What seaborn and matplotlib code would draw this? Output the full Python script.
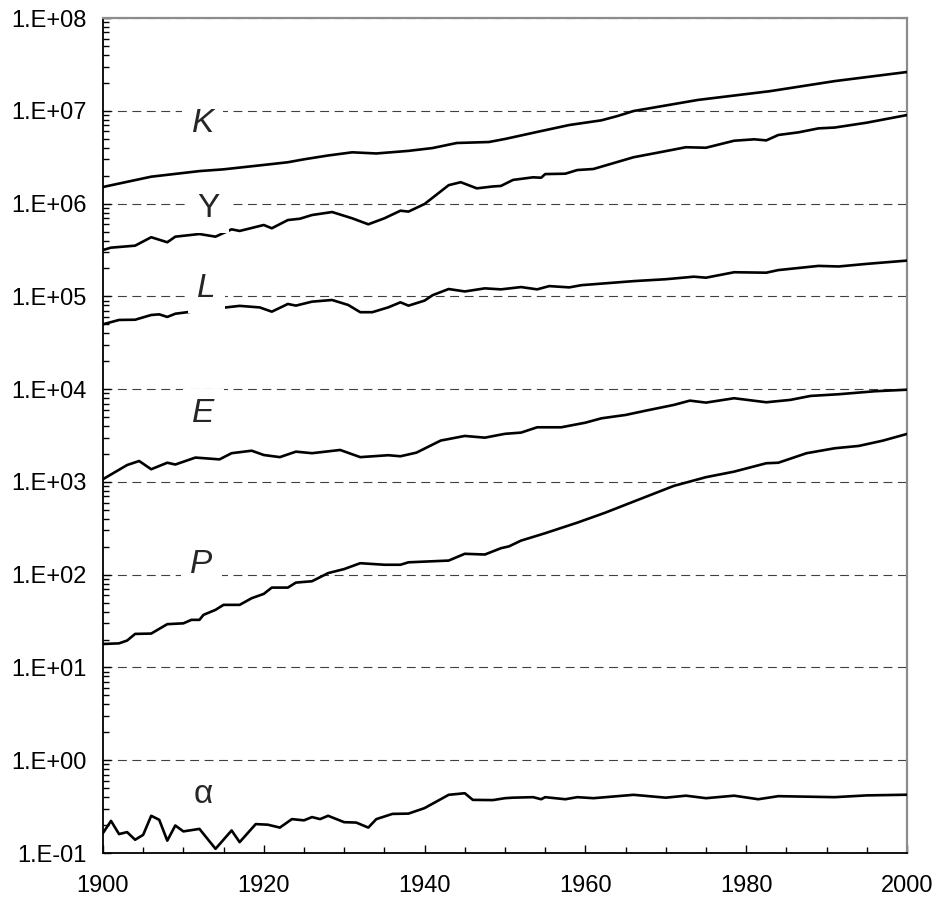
import numpy as np
import matplotlib
matplotlib.use("Agg")
import matplotlib.pyplot as plt
import matplotlib.ticker as mticker
import seaborn as sns

sns.set_theme(style="ticks")
plt.rcParams['font.family'] = ['Liberation Sans', 'DejaVu Sans']

# values
k_years = [1900, 1906, 1912, 1915, 1920, 1923, 1925, 1928, 1931, 1934, 1938, 1941, 1944, 1948,
           1950, 1954, 1958, 1962, 1964, 1966, 1974, 1983, 1991, 2000]
k_vals = [1.51e6, 1.95e6, 2.24e6, 2.34e6, 2.61e6, 2.79e6, 3.0e6, 3.3e6, 3.57e6, 3.47e6, 3.70e6,
          3.97e6, 4.50e6, 4.61e6, 4.97e6, 5.92e6, 7.03e6, 7.9e6, 8.79e6, 9.95e6, 1.31e7, 1.63e7,
          2.09e7, 2.62e7]

y_years = [1900, 1901, 1904, 1906, 1908, 1909, 1912, 1914, 1916, 1917, 1920, 1921, 1923, 1924.5,
           1926, 1928.5, 1931, 1933, 1935, 1937, 1938, 1940, 1943, 1944.5, 1946.5, 1948.5, 1949.5,
           1951, 1953.5, 1954.5, 1955, 1957.5, 1959, 1961, 1966, 1969, 1972.5, 1975, 1978.5, 1981,
           1982.5, 1984, 1986.5, 1989, 1991, 1995, 2000]
y_vals = [3.16e5, 3.35e5, 3.52e5, 4.34e5, 3.83e5, 4.40e5, 4.70e5, 4.40e5, 5.28e5, 5.07e5, 5.88e5,
          5.42e5, 6.65e5, 6.87e5, 7.53e5, 8.11e5, 6.94e5, 5.98e5, 6.94e5, 8.38e5, 8.2e5, 9.9e5,
          1.58e6, 1.70e6, 1.46e6, 1.53e6, 1.55e6, 1.80e6, 1.92e6, 1.90e6, 2.08e6, 2.10e6, 2.30e6,
          2.36e6, 3.16e6, 3.54e6, 4.05e6, 4.00e6, 4.76e6, 4.93e6, 4.8e6, 5.49e6, 5.86e6, 6.47e6,
          6.6e6, 7.45e6, 9.0e6]

l_years = [1900, 1902, 1904, 1906, 1907, 1908, 1909, 1911, 1915, 1917, 1919.5, 1921, 1923, 1924,
           1926, 1928.5, 1930.5, 1932, 1933.5, 1935.5, 1937, 1938, 1940, 1941, 1943, 1945, 1947.5,
           1949.5, 1952, 1954, 1955.5, 1958, 1959.5, 1966, 1970, 1973.5, 1975, 1978.5, 1982.5,
           1984, 1989, 1991.5, 1995, 2000]
l_vals = [5.0e4, 5.57e4, 5.6e4, 6.3e4, 6.4e4, 6.0e4, 6.5e4, 6.84e4, 7.55e4, 7.9e4, 7.6e4, 6.84e4,
          8.28e4, 7.95e4, 8.77e4, 9.14e4, 8.08e4, 6.75e4, 6.75e4, 7.62e4, 8.63e4, 7.94e4, 9.0e4,
          1.03e5, 1.20e5, 1.13e5, 1.22e5, 1.19e5, 1.26e5, 1.19e5, 1.29e5, 1.25e5, 1.32e5, 1.46e5,
          1.53e5, 1.63e5, 1.59e5, 1.82e5, 1.80e5, 1.92e5, 2.13e5, 2.10e5, 2.24e5, 2.43e5]

e_years = [1900, 1903, 1904.5, 1906, 1908, 1909, 1911.5, 1914.5, 1916, 1918.5, 1920, 1922, 1924,
           1926, 1929.5, 1932, 1935.5, 1937, 1939, 1942, 1945, 1947.5, 1950, 1952, 1954, 1957,
           1960, 1962, 1965, 1967.5, 1971, 1973, 1975, 1978.5, 1982.5, 1985.5, 1988, 1991.5,
           1996, 2000]
e_vals = [1.07e3, 1.52e3, 1.68e3, 1.37e3, 1.61e3, 1.54e3, 1.83e3, 1.75e3, 2.04e3, 2.17e3, 1.95e3,
          1.85e3, 2.12e3, 2.04e3, 2.21e3, 1.85e3, 1.94e3, 1.89e3, 2.07e3, 2.79e3, 3.13e3, 3.00e3,
          3.3e3, 3.4e3, 3.88e3, 3.88e3, 4.35e3, 4.85e3, 5.27e3, 5.86e3, 6.76e3, 7.52e3, 7.16e3,
          7.98e3, 7.22e3, 7.66e3, 8.45e3, 8.81e3, 9.49e3, 9.86e3]

p_years = [1900, 1902, 1903, 1904, 1906, 1908, 1910, 1911, 1912, 1912.5, 1914, 1915, 1917, 1918.5,
           1920, 1921, 1923, 1924, 1926, 1928, 1930, 1932, 1935, 1937, 1938, 1943, 1945, 1947.5,
           1949.5, 1950.5, 1952, 1955, 1959, 1962.5, 1966, 1971, 1975, 1978.5, 1982.5, 1984,
           1987.5, 1991, 1994, 1997, 2000]
p_vals = [17.9, 18.2, 19.5, 23.0, 23.2, 29.3, 29.9, 32.6, 32.6, 36.9, 41.8, 47.3, 47.3, 55.8, 62.1,
          72.6, 72.6, 82.2, 85, 104, 115, 133, 128, 128, 136, 142, 168, 165, 193, 202, 233, 280,
          364, 467, 614, 906, 1125, 1291, 1590, 1610, 2038, 2305, 2443, 2786, 3290]

a_years = [1900, 1901, 1902, 1903, 1904, 1905, 1906, 1907, 1908, 1909, 1910, 1912, 1914, 1916,
           1917, 1919, 1920.5, 1922, 1923.5, 1925, 1926, 1927, 1928, 1930, 1931.5, 1933, 1934,
           1936, 1938, 1940, 1943, 1945, 1946, 1948.5, 1950, 1951, 1953.5, 1954.5, 1955, 1957.5,
           1959, 1961, 1966, 1970, 1972.5, 1975, 1978.5, 1981.5, 1984, 1991, 1995, 2000]
a_vals = [0.164, 0.222, 0.160, 0.168, 0.139, 0.157, 0.252, 0.228, 0.136, 0.198, 0.171, 0.182,
          0.111, 0.175, 0.131, 0.205, 0.202, 0.188, 0.232, 0.225, 0.244, 0.232, 0.252, 0.215,
          0.213, 0.188, 0.232, 0.264, 0.266, 0.305, 0.424, 0.441, 0.374, 0.372, 0.39, 0.395, 0.40,
          0.38, 0.40, 0.38, 0.40, 0.39, 0.424, 0.395, 0.415, 0.39, 0.415, 0.38, 0.41, 0.40, 0.418,
          0.425]

series = [(k_years, k_vals), (y_years, y_vals), (l_years, l_vals),
          (e_years, e_vals), (p_years, p_vals), (a_years, a_vals)]

# label text, style, and where it sits (year, value at baseline)
labels = [("K", "italic", 1912.4, 5.9e6), ("Y", "normal", 1913.1, 7.2e5),
          ("L", "italic", 1912.9, 9.9e4), ("E", "italic", 1912.5, 4.4e3),
          ("P", "italic", 1912.2, 104), ("α", "normal", 1912.5, 0.345)]

fig = plt.figure(figsize=(9.36, 9.02), dpi=100)
ax = fig.add_axes([0.110, 0.0543, 0.859, 0.9257])

for xs, vs in series:
    sns.lineplot(x=xs, y=vs, ax=ax, color="black", lw=1.9, zorder=3)

ax.set_yscale("log")
ax.set_ylim(0.1, 1e8)
ax.set_xlim(1900, 2000)

ax.yaxis.set_major_locator(mticker.LogLocator(base=10, numticks=20))
ax.yaxis.set_minor_locator(mticker.LogLocator(base=10, subs=np.arange(2, 10), numticks=20))
ax.yaxis.set_minor_formatter(mticker.NullFormatter())
ax.yaxis.set_major_formatter(mticker.FuncFormatter(
    lambda v, p: "1.E{:+03d}".format(int(round(np.log10(v))))))
ax.xaxis.set_major_locator(mticker.MultipleLocator(20))
ax.xaxis.set_minor_locator(mticker.MultipleLocator(5))

ax.grid(axis="y", which="major", ls=(0, (8, 5)), color="#404040", lw=0.8, zorder=1)
ax.grid(axis="x", visible=False)

ax.tick_params(axis="both", which="major", direction="in", length=6, width=1,
               color="black", labelsize=17, labelcolor="black")
ax.tick_params(axis="both", which="minor", direction="in", length=4, width=1, color="black")
ax.tick_params(axis="y", which="major", pad=12)
ax.tick_params(axis="x", which="major", pad=16)

for side in ["left", "bottom"]:
    ax.spines[side].set_color("black")
    ax.spines[side].set_linewidth(1.3)
for side in ["top", "right"]:
    ax.spines[side].set_color("#8c8c8c")
    ax.spines[side].set_linewidth(1.6)

ax.set_xlabel("")
ax.set_ylabel("")

for txt, style, xx, yy in labels:
    ax.text(xx, yy, txt, fontsize=24, style=style, ha="center", va="baseline", zorder=5,
            bbox=dict(boxstyle="square,pad=0.28", fc="white", ec="none"))

fig.savefig("out.png", dpi=100)
